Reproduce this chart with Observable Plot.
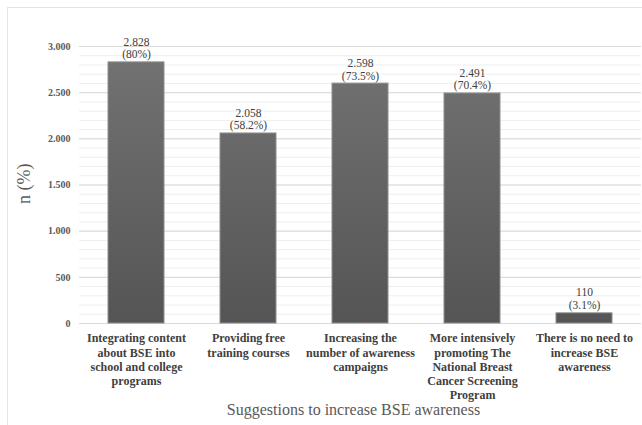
<!DOCTYPE html>
<html><head><meta charset="utf-8">
<script src="https://cdn.jsdelivr.net/npm/d3@7"></script>
<script src="https://cdn.jsdelivr.net/npm/@observablehq/plot@0.6"></script>
<style>
body{margin:0;background:#fff;}
#wrap{position:relative;width:642px;height:425px;overflow:hidden;background:#fff;}
#border{position:absolute;left:7px;top:7px;width:660px;height:440px;border:1px solid #e4e4e4;}
#chart{position:absolute;left:0;top:0;}
#chart svg, #chart svg text{font-family:"Liberation Serif", "Times New Roman", serif !important;}
</style></head><body>
<div id="wrap"><div id="border"></div><div id="chart"></div></div>
<script>
const categories = [
  "Integrating content about BSE into school and college programs",
  "Providing free training courses",
  "Increasing the number of awareness campaigns",
  "More intensively promoting The National Breast Cancer Screening Program",
  "There is no need to increase BSE awareness"
];
const tickLabels = [
  "Integrating content\nabout BSE into\nschool and college\nprograms",
  "Providing free\ntraining courses",
  "Increasing the\nnumber of awareness\ncampaigns",
  "More intensively\npromoting The\nNational Breast\nCancer Screening\nProgram",
  "There is no need to\nincrease BSE\nawareness"
];
const counts = [2828, 2058, 2598, 2491, 110];
const percents = ["80%", "58.2%", "73.5%", "70.4%", "3.1%"];
const yTicks = [0, 500, 1000, 1500, 2000, 2500, 3000];
const xTitle = "Suggestions to increase BSE awareness";
const yTitle = "n (%)";

const data = categories.map((c, i) => ({category: c, n: counts[i], pct: percents[i]}));
const fmt = d3.formatLocale({decimal: ",", thousands: ".", grouping: [3], currency: ["", ""]}).format(",d");
const serif = "Liberation Serif";

const plot = Plot.plot({
  width: 642,
  height: 425,
  marginLeft: 79,
  marginRight: 1,
  marginTop: 46,
  marginBottom: 102,
  style: {background: "transparent", overflow: "visible"},
  x: {domain: categories, paddingInner: 0.5, paddingOuter: 0.25, axis: null},
  y: {domain: [0, 3000], axis: null},
  marks: [
    Plot.gridY({ticks: 30, stroke: "#eeeeee", strokeOpacity: 1}),
    Plot.gridY(yTicks, {stroke: "#d9d9d9", strokeOpacity: 1}),
    Plot.barY(data, {x: "category", y: "n", fill: "url(#barGrad)", stroke: "#8e8e8e", strokeWidth: 1}),
    Plot.text(data, {x: "category", y: "n", text: d => fmt(d.n) + "\n(" + d.pct + ")",
      lineAnchor: "bottom", dy: -4, fontSize: 11.5, lineHeight: 1.12, fill: "#404040", fontFamily: serif}),
    Plot.axisY(yTicks, {tickSize: 0, tickPadding: 9, tickFormat: fmt, fontSize: 10, fontWeight: "bold", fill: "#595959", label: null, fontFamily: serif}),
    Plot.axisX({tickSize: 0, tickPadding: 9, tickFormat: d => tickLabels[categories.indexOf(d)],
      fontSize: 12, fontWeight: "bold", lineHeight: 1.17, fill: "#404040", label: null, lineWidth: Infinity, fontFamily: serif}),
    Plot.text([xTitle], {frameAnchor: "bottom", dy: 91, dx: -7, fontSize: 16, fill: "#595959", fontFamily: serif}),
    Plot.text([yTitle], {frameAnchor: "left", dx: -55, dy: 19, rotate: -90, fontSize: 18, fill: "#595959", fontFamily: serif})
  ]
});

const ns = "http://www.w3.org/2000/svg";
const defs = document.createElementNS(ns, "defs");
defs.innerHTML = '<linearGradient id="barGrad" gradientUnits="userSpaceOnUse" x1="0" y1="46" x2="0" y2="323">' +
  '<stop offset="0" stop-color="#737373"/><stop offset="1" stop-color="#555555"/></linearGradient>';
plot.insertBefore(defs, plot.firstChild);
document.getElementById("chart").appendChild(plot);
</script>
</body></html>
